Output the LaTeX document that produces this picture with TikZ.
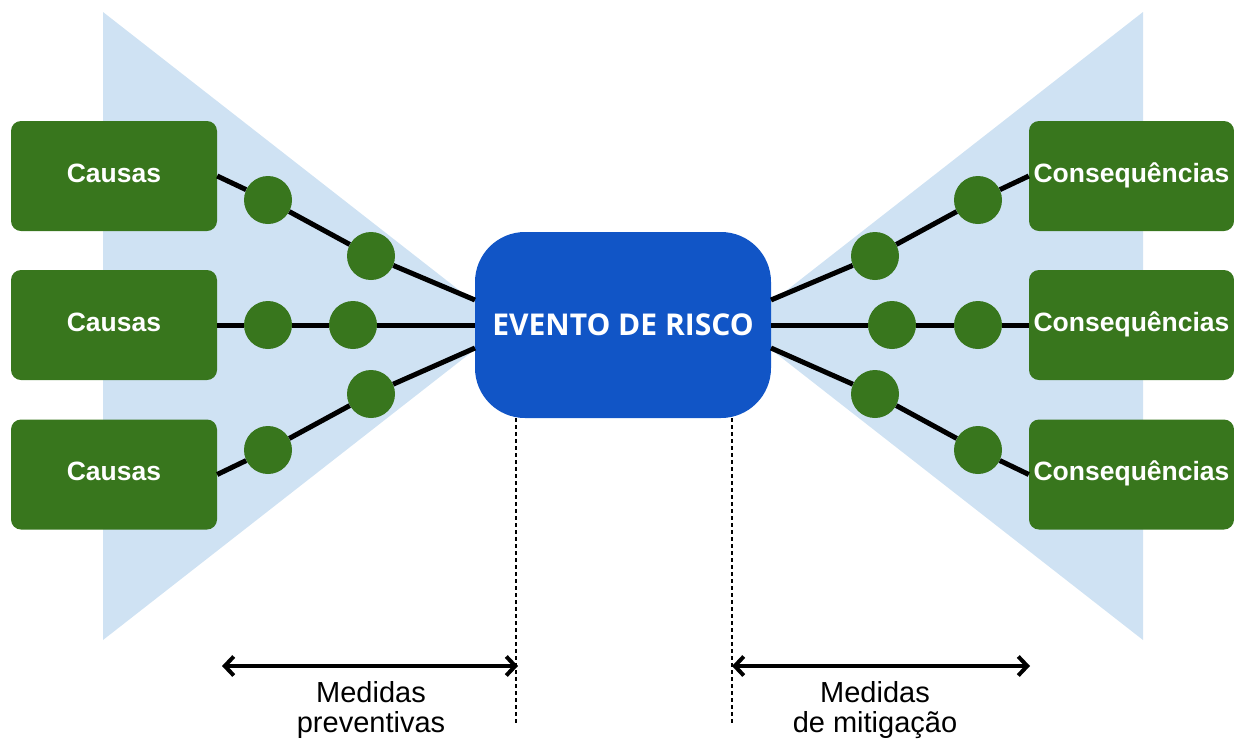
\documentclass[tikz,border=0pt]{standalone}
\usepackage{fontspec}
\setmainfont{Liberation Sans}
\newfontfamily\opensans{Open Sans}
\usetikzlibrary{arrows.meta,calc}
\definecolor{tri}{HTML}{CFE2F3}
\definecolor{grn}{HTML}{38761D}
\definecolor{evblue}{HTML}{1155C6}
\begin{document}
\begin{tikzpicture}[x=1pt,y=-1pt,
  gbox/.style={fill=grn, rounded corners=10pt, minimum width=206pt, minimum height=110pt,
    text=white, font=\fontsize{26.5}{30}\selectfont\bfseries, inner sep=0pt,
    text height=19pt, text depth=7pt},
  dot/.style={circle, fill=grn, minimum size=48pt, inner sep=0pt},
  link/.style={line width=5pt, black},
  evbox/.style={fill=evblue, rounded corners=50pt, minimum width=296pt, minimum height=186pt,
    text=white, font=\opensans\bfseries\fontsize{30}{36}\selectfont, inner sep=0pt},
  guide/.style={line width=1.8pt, dash pattern=on 4pt off 3pt},
  span/.style={line width=4pt, {Straight Barb[length=9pt,width=19pt,line width=4pt]}-{Straight Barb[length=9pt,width=19pt,line width=4pt]}},
  lbl/.style={align=center, font=\fontsize{29}{30}\selectfont, inner sep=0pt}
]
\useasboundingbox (0,0) rectangle (1234,740);
% background triangles
\fill[tri] (103,12) -- (103,640) -- (505,326) -- cycle;
\fill[tri] (1143,12) -- (1143,640) -- (741,326) -- cycle;

% boxes
\node[gbox] (c1) at (114,176) {Causas};
\node[gbox] (c2) at (114,325) {Causas};
\node[gbox] (c3) at (114,474.5) {Causas};
\node[gbox, minimum width=205pt] (q1) at (1131.5,176) {Consequências};
\node[gbox, minimum width=205pt] (q2) at (1131.5,325) {Consequências};
\node[gbox, minimum width=205pt] (q3) at (1131.5,474.5) {Consequências};
\node[evbox] (ev) at (623,325) {EVENTO DE RISCO};

% connection points on the event box
\coordinate (eL1) at (475,300);
\coordinate (eL2) at (475,325);
\coordinate (eL3) at (475,348);
\coordinate (eR1) at (771,300);
\coordinate (eR2) at (771,325);
\coordinate (eR3) at (771,348);

% barrier circles
\node[dot] (a1) at (268,200) {};
\node[dot] (a2) at (371,256) {};
\node[dot] (b1) at (268,325) {};
\node[dot] (b2) at (353,325) {};
\node[dot] (d1) at (268,450) {};
\node[dot] (d2) at (371,394) {};
\node[dot] (e1) at (978,200) {};
\node[dot] (e2) at (875,256) {};
\node[dot] (f1) at (978,325) {};
\node[dot] (f2) at (892,325) {};
\node[dot] (g1) at (978,450) {};
\node[dot] (g2) at (875,394) {};

% connectors
\draw[link] (c1.east) -- (a1) -- (a2) -- (eL1);
\draw[link] (c2.east) -- (b1) -- (b2) -- (eL2);
\draw[link] (c3.east) -- (d1) -- (d2) -- (eL3);
\draw[link] (q1.west) -- (e1) -- (e2) -- (eR1);
\draw[link] (q2.west) -- (f1) -- (f2) -- (eR2);
\draw[link] (q3.west) -- (g1) -- (g2) -- (eR3);

% dashed guides
\coordinate (gl1) at (516,418);
\coordinate (gl2) at (516,724);
\coordinate (gr1) at (732,418);
\coordinate (gr2) at (732,724);
\draw[guide] (gl1) -- (gl2);
\draw[guide] (gr1) -- (gr2);

% span arrows
\coordinate (s1a) at (222,666);
\coordinate (s1b) at (518,666);
\coordinate (s2a) at (732,666);
\coordinate (s2b) at (1030,666);
\draw[span] (s1a) -- (s1b);
\draw[span] (s2a) -- (s2b);

\node[lbl] (m1) at (371,710) {Medidas\\preventivas};
\node[lbl] (m2) at (875,710) {Medidas\\de mitigação};
\end{tikzpicture}
\end{document}
